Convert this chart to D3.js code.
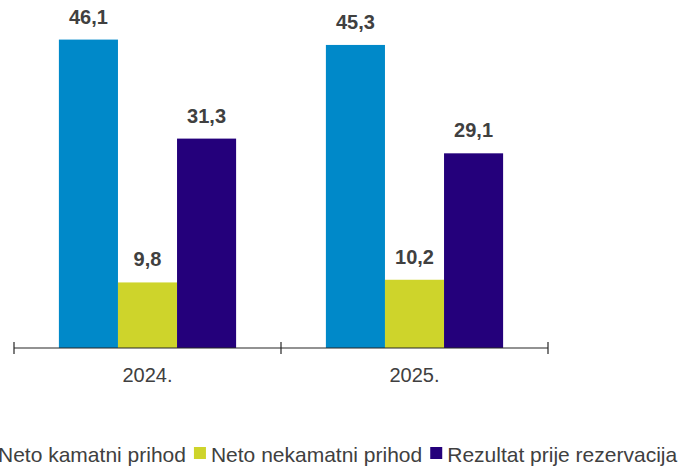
<!DOCTYPE html>
<html>
<head>
<meta charset="utf-8">
<script src="https://cdn.jsdelivr.net/npm/d3@7"></script>
<style>
  html, body { margin: 0; padding: 0; background: #fff; }
  svg { display: block; }
  text { font-family: "Liberation Sans", Arial, sans-serif; }
</style>
</head>
<body>
<svg id="chart" width="682" height="466"></svg>
<script>
const categories = ["2024.", "2025."];
const seriesNames = ["Neto kamatni prihod", "Neto nekamatni prihod", "Rezultat prije rezervacija"];
const netoKamatni = [46.1, 45.3];
const netoNekamatni = [9.8, 10.2];
const rezultat = [31.3, 29.1];
const valueLabels = [["46,1", "9,8", "31,3"], ["45,3", "10,2", "29,1"]];
const colors = ["#0089C9", "#CED42B", "#24007B"];

const seriesValues = [netoKamatni, netoNekamatni, rezultat];
const data = categories.map((c, i) => ({
  cat: c,
  vals: seriesValues.map((s, j) => ({ name: seriesNames[j], v: s[i], label: valueLabels[i][j], color: colors[j] }))
}));

const svg = d3.select("#chart");
const baseY = 348;
const x0 = d3.scaleBand().domain(categories).range([14, 548]).paddingInner(0).paddingOuter(0);
const x1 = d3.scaleBand().domain(seriesNames).range([0, x0.bandwidth()]).paddingInner(0).paddingOuter(0.76);
const y = d3.scaleLinear().domain([0, 50]).range([baseY, baseY - 334.5]);

const groups = svg.selectAll("g.grp").data(data).join("g")
  .attr("class", "grp")
  .attr("transform", d => `translate(${x0(d.cat)},0)`);

groups.selectAll("rect").data(d => d.vals).join("rect")
  .attr("x", d => x1(d.name))
  .attr("width", x1.bandwidth())
  .attr("y", d => y(d.v))
  .attr("height", d => y(0) - y(d.v))
  .attr("fill", d => d.color);

groups.selectAll("text.val").data(d => d.vals).join("text")
  .attr("class", "val")
  .attr("x", d => x1(d.name) + x1.bandwidth() / 2)
  .attr("y", d => y(d.v) - 16)
  .attr("text-anchor", "middle")
  .attr("font-size", 20)
  .attr("font-weight", "bold")
  .attr("fill", "#404040")
  .text(d => d.label);

// axis
const axis = svg.append("g").attr("transform", `translate(0,${baseY})`);
axis.append("line")
  .attr("x1", x0.range()[0]).attr("x2", x0.range()[1])
  .attr("y1", 0).attr("y2", 0)
  .attr("stroke", "#262626").attr("stroke-width", 1.2);
const tickPos = categories.map(c => x0(c)).concat([x0.range()[1]]);
axis.selectAll("line.tick").data(tickPos).join("line")
  .attr("class", "tick")
  .attr("x1", d => d).attr("x2", d => d)
  .attr("y1", -6).attr("y2", 6)
  .attr("stroke", "#262626").attr("stroke-width", 1.2);
axis.selectAll("text.cat").data(categories).join("text")
  .attr("class", "cat")
  .attr("x", d => x0(d) + x0.bandwidth() / 2)
  .attr("y", 34)
  .attr("text-anchor", "middle")
  .attr("font-size", 20)
  .attr("fill", "#404040")
  .text(d => d);

// legend
const legend = svg.append("g").attr("transform", "translate(0,462)");
let cx = -19;
seriesNames.forEach((name, i) => {
  legend.append("rect")
    .attr("x", cx).attr("y", -15)
    .attr("width", 12).attr("height", 12)
    .attr("fill", colors[i]);
  const t = legend.append("text")
    .attr("x", cx + 17).attr("y", 0)
    .attr("font-size", 21)
    .attr("fill", "#404040")
    .text(name);
  cx = cx + 17 + t.node().getComputedTextLength() + 8;
});
</script>
</body>
</html>
